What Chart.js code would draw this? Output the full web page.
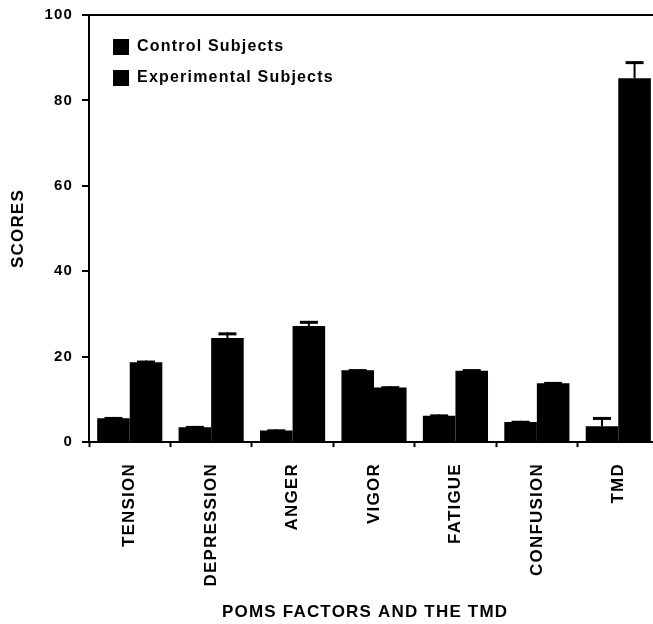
<!DOCTYPE html>
<html>
<head>
<meta charset="utf-8">
<script src="https://cdn.jsdelivr.net/npm/chart.js@4/dist/chart.umd.min.js"></script>
<style>
  body { margin: 0; background: #fff; overflow: hidden; }
  #wrap { width: 662px; height: 624px; }
</style>
</head>
<body>
<div id="wrap"><canvas id="chart"></canvas></div>
<script>
const factors = ['TENSION', 'DEPRESSION', 'ANGER', 'VIGOR', 'FATIGUE', 'CONFUSION', 'TMD'];
const controlScores = [5.6, 3.5, 2.7, 16.8, 6.2, 4.7, 3.7];
const controlErr = [0.3, 0.3, 0.3, 0.3, 0.3, 0.3, 2.2];
const experimentalScores = [18.7, 24.4, 27.2, 12.8, 16.7, 13.8, 85.2];
const experimentalErr = [0.4, 1.3, 1.2, 0.3, 0.4, 0.3, 4.0];
const yTicks = [0, 20, 40, 60, 80, 100];

Chart.defaults.font.family = "'Liberation Sans', Arial, sans-serif";
Chart.defaults.font.weight = 'bold';
Chart.defaults.color = '#000';

// the printed figure has slightly spaced lettering
const spacing = {
    id: 'spacing',
    beforeUpdate(chart) { chart.ctx.letterSpacing = '1.2px'; },
    beforeDraw(chart) { chart.ctx.letterSpacing = '1.2px'; }
};

// push the legend a bit into the plot, like the original
const legendShift = {
    id: 'legendShift',
    afterLayout(chart) {
        chart.legend.left += 9;
        chart.legend.top += 24;
    }
};

const errorBars = {
    id: 'errorBars',
    afterDatasetsDraw(chart) {
        const ctx = chart.ctx;
        const y = chart.scales.y;
        chart.data.datasets.forEach((ds, i) => {
            const meta = chart.getDatasetMeta(i);
            meta.data.forEach((bar, j) => {
                const top = y.getPixelForValue(ds.data[j] + ds.err[j]);
                ctx.save();
                ctx.strokeStyle = '#000';
                ctx.lineWidth = 2;
                ctx.beginPath();
                ctx.moveTo(bar.x, bar.y);
                ctx.lineTo(bar.x, top);
                ctx.stroke();
                ctx.lineWidth = 3;
                ctx.beginPath();
                ctx.moveTo(bar.x - 9, top + 1.5);
                ctx.lineTo(bar.x + 9, top + 1.5);
                ctx.stroke();
                ctx.restore();
            });
        });
    }
};

new Chart(document.getElementById('chart'), {
    type: 'bar',
    data: {
        labels: factors,
        datasets: [{
            label: 'Control Subjects',
            data: controlScores,
            err: controlErr,
            backgroundColor: '#000',
            borderWidth: 0
        }, {
            label: 'Experimental Subjects',
            data: experimentalScores,
            err: experimentalErr,
            backgroundColor: '#000',
            borderWidth: 0
        }]
    },
    options: {
        responsive: true,
        maintainAspectRatio: false,
        animation: false,
        layout: { padding: { top: 9, right: 3, bottom: 0, left: 0 } },
        datasets: { bar: { barPercentage: 1, categoryPercentage: 0.8 } },
        scales: {
            x: {
                grid: { drawOnChartArea: false, color: '#000', tickLength: 5, tickWidth: 2 },
                border: { color: '#000', width: 2 },
                ticks: { font: { size: 17, weight: 'bold' }, minRotation: 90, maxRotation: 90, padding: 16, autoSkip: false },
                title: {
                    display: true,
                    text: 'POMS FACTORS AND THE TMD   ',
                    font: { size: 17, weight: 'bold' },
                    padding: { top: 0, bottom: 1 }
                }
            },
            y: {
                min: 0,
                max: 100,
                afterBuildTicks: (axis) => { axis.ticks = yTicks.map(v => ({ value: v })); },
                grid: {
                    color: (c) => (c.tick && c.tick.value === 100 ? '#000' : 'rgba(0,0,0,0)'),
                    lineWidth: 2,
                    tickColor: '#000',
                    tickWidth: 2,
                    tickLength: 7
                },
                border: { color: '#000', width: 2 },
                ticks: { font: { size: 15, weight: 'bold', lineHeight: 0.8 }, padding: 9 },
                title: {
                    display: true,
                    text: 'SCORES',
                    font: { size: 17, weight: 'bold' },
                    padding: { top: 8, bottom: 7 }
                }
            }
        },
        plugins: {
            legend: {
                position: 'chartArea',
                align: 'start',
                labels: { boxWidth: 16, boxHeight: 16, padding: 15, font: { size: 16, weight: 'bold' } }
            },
            tooltip: { enabled: false }
        }
    },
    plugins: [spacing, legendShift, errorBars]
});
</script>
</body>
</html>
